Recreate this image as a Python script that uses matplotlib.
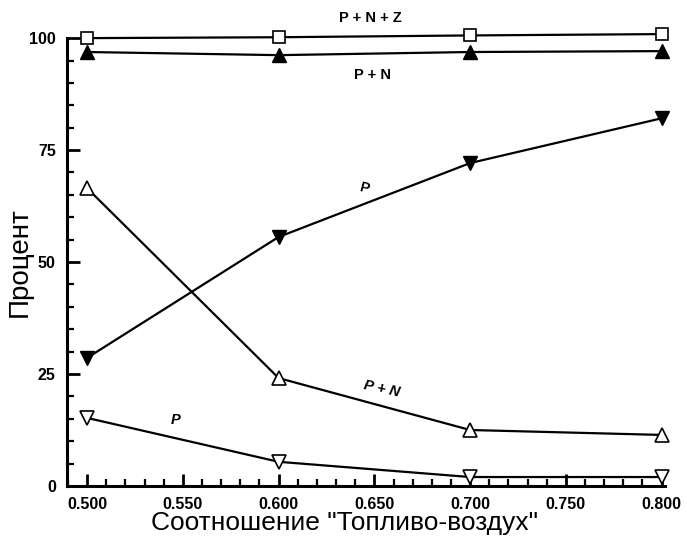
import matplotlib
matplotlib.use("Agg")
import matplotlib.pyplot as plt
from matplotlib.ticker import MultipleLocator

plt.rcParams['font.family'] = ['Liberation Sans', 'DejaVu Sans']

ratio = [0.500, 0.600, 0.700, 0.800]

pnz_total = [100.0, 100.2, 100.6, 100.9]   # P + N + Z, open squares
pn_filled = [96.9, 96.2, 96.9, 97.1]       # P + N, filled triangles
p_filled = [28.6, 55.6, 72.1, 82.1]        # P, filled down-triangles
pn_open = [66.5, 24.1, 12.5, 11.4]         # P + N, open triangles
p_open = [15.2, 5.4, 2.0, 2.0]             # P, open down-triangles

x_ticks = [0.500, 0.550, 0.600, 0.650, 0.700, 0.750, 0.800]
y_ticks = [0, 25, 50, 75, 100]

fig = plt.figure(figsize=(6.87, 5.37), dpi=100)
ax = fig.add_axes([0.0975, 0.095, 0.870, 0.834])

line = dict(color='black', lw=1.6, clip_on=False, zorder=3)
ax.plot(ratio, pnz_total, marker='s', mfc='white', mew=1.2, ms=9, **line)
ax.plot(ratio, pn_filled, marker='^', mfc='black', ms=10, **line)
ax.plot(ratio, p_filled, marker='v', mfc='black', ms=10, **line)
ax.plot(ratio, pn_open, marker='^', mfc='white', mew=1.2, ms=10, **line)
ax.plot(ratio, p_open, marker='v', mfc='white', mew=1.2, ms=10, **line)

ax.set_xlim(0.4895, 0.8016)
ax.set_ylim(0, 100)
ax.set_xticks(x_ticks)
ax.set_xticklabels([f"{v:.3f}" for v in x_ticks])
ax.set_yticks(y_ticks)
ax.xaxis.set_minor_locator(MultipleLocator(0.01))
ax.yaxis.set_minor_locator(MultipleLocator(5))

for s in ['top', 'right']:
    ax.spines[s].set_visible(False)
for s in ['left', 'bottom']:
    ax.spines[s].set_linewidth(2.2)

ax.tick_params(which='major', direction='in', length=9, width=2, labelsize=11.5, pad=8)
ax.tick_params(which='minor', direction='in', length=5, width=1.6)
for lab in ax.get_xticklabels() + ax.get_yticklabels():
    lab.set_fontweight('bold')

# curve labels
ax.text(0.648, 104.4, "P + N + Z", fontsize=10.5, fontweight='bold', ha='center', va='center', clip_on=False)
ax.text(0.649, 91.8, "P + N", fontsize=10.5, fontweight='bold', ha='center', va='center')
ax.text(0.645, 66.5, "P", fontsize=10.5, fontweight='bold', ha='center', va='center', rotation=-15)
ax.text(0.654, 21.6, "P + N", fontsize=10.5, fontweight='bold', style='italic', ha='center', va='center', rotation=-12)
ax.text(0.546, 14.7, "P", fontsize=10.5, fontweight='bold', style='italic', ha='center', va='center')

ax.set_ylabel("Процент", fontsize=20)
ax.yaxis.set_label_coords(-0.057, 0.5)
ax.set_xlabel("Соотношение \"Топливо-воздух\"", fontsize=19)
ax.xaxis.set_label_coords(0.465, -0.055)

fig.savefig("out.png", dpi=100)
